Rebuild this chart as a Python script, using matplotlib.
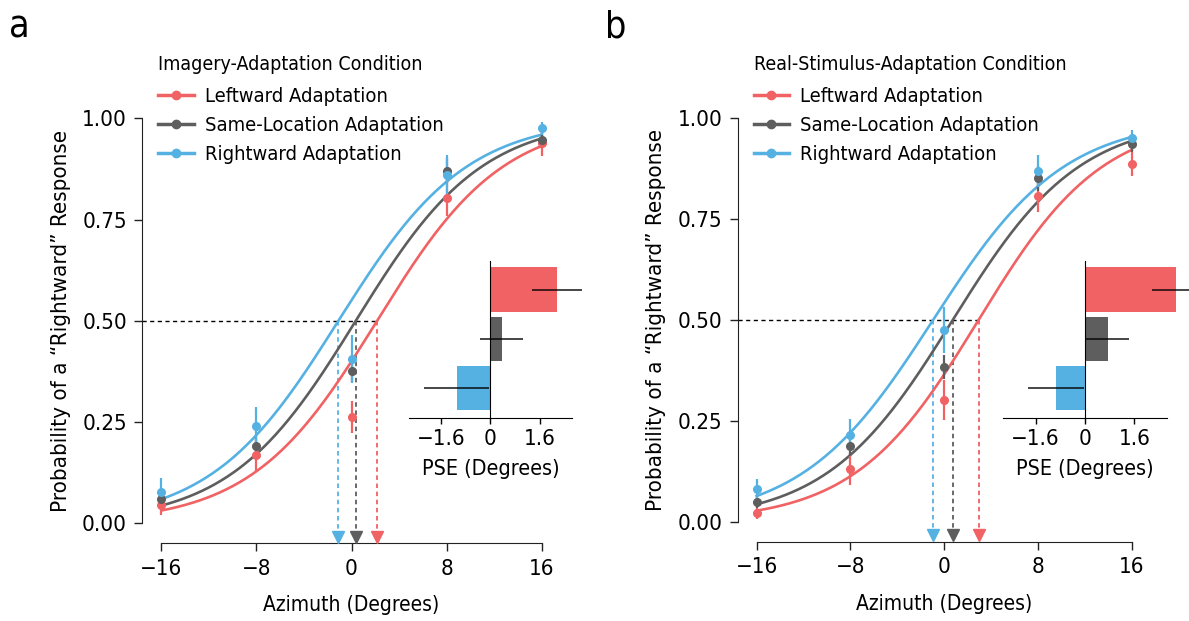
import numpy as np
import matplotlib
matplotlib.use("Agg")
import matplotlib.pyplot as plt
from matplotlib.lines import Line2D

plt.rcParams["font.family"] = ["DejaVu Sans"]
plt.rcParams["font.stretch"] = "condensed"

# stimulus azimuths (degrees)
azimuth = [-16, -8, 0, 8, 16]
series_names = ["Leftward Adaptation", "Same-Location Adaptation", "Rightward Adaptation"]
colors = ["#F06264", "#5E5E5E", "#56B1E3"]

# panel a: imagery adaptation, proportion "rightward" responses
a_left = [0.045, 0.169, 0.263, 0.804, 0.938]
a_left_err = [0.025, 0.04, 0.04, 0.045, 0.03]
a_same = [0.059, 0.191, 0.376, 0.871, 0.946]
a_same_err = [0.02, 0.025, 0.027, 0.03, 0.02]
a_right = [0.078, 0.241, 0.406, 0.86, 0.975]
a_right_err = [0.035, 0.045, 0.06, 0.05, 0.015]
a_pse = [2.15, 0.36, -1.1]
a_pse_err = [0.8, 0.7, 1.04]
a_slope = [5.3, 5.3, 5.4]

# panel b: real-stimulus adaptation
b_left = [0.022, 0.131, 0.302, 0.807, 0.887]
b_left_err = [0.015, 0.04, 0.05, 0.04, 0.03]
b_same = [0.050, 0.188, 0.383, 0.851, 0.936]
b_same_err = [0.015, 0.025, 0.03, 0.03, 0.02]
b_right = [0.081, 0.215, 0.475, 0.870, 0.950]
b_right_err = [0.025, 0.04, 0.058, 0.04, 0.02]
b_pse = [2.93, 0.73, -0.95]
b_pse_err = [0.77, 0.7, 0.91]
b_slope = [5.3, 5.4, 5.6]

W, H = 1189, 621
fig = plt.figure(figsize=(W / 100, H / 100), dpi=100)


def px_axes(x0, x1, y0, y1):
    # axes from pixel box (top-left origin)
    return fig.add_axes([x0 / W, 1 - y1 / H, (x1 - x0) / W, (y1 - y0) / H])


def panel(box, inset_box, letter, title, means, errs, pse, pse_err, slope):
    ax = px_axes(*box)
    ax.set_xlim(-16, 16)
    ax.set_ylim(0, 1)
    for s in ["top", "right"]:
        ax.spines[s].set_visible(False)
    ax.spines["left"].set_position(("outward", 13.7))
    ax.spines["bottom"].set_position(("outward", 14.4))
    ax.spines["left"].set_color("#222222")
    ax.spines["bottom"].set_color("#222222")
    ax.set_xticks([-16, -8, 0, 8, 16])
    ax.set_xticklabels(["\u221216", "\u22128", "0", "8", "16"])
    ax.set_yticks([0, 0.25, 0.5, 0.75, 1.0])
    ax.set_yticklabels(["0.00", "0.25", "0.50", "0.75", "1.00"])
    ax.tick_params(labelsize=16, length=6, width=1, pad=5, color="#222222")
    ax.set_xlabel("Azimuth (Degrees)", fontsize=15, labelpad=12)
    ax.set_ylabel("Probability of a \u201cRightward\u201d Response", fontsize=16, labelpad=8)

    xs = np.linspace(-16, 16, 300)
    ppu = (box[1] - box[0]) / 32.0
    for i in range(3):
        curve = 1 / (1 + np.exp(-(xs - pse[i]) / slope[i]))
        ax.plot(xs, curve, color=colors[i], lw=1.9, clip_on=False, zorder=3)
        ax.errorbar(azimuth, means[i], yerr=errs[i], fmt="o", color=colors[i],
                    ms=5.5, elinewidth=1.6, capsize=0, clip_on=False, zorder=4)
        # PSE arrows
        ax.plot([pse[i], pse[i]], [0.5, -0.03], color=colors[i], lw=1.3,
                dashes=(2.5, 2), clip_on=False, zorder=2)
        ax.plot(pse[i], -0.034, marker="v", ms=8, color=colors[i],
                clip_on=False, zorder=3)
    ax.plot([-16 - 19 / ppu, max(pse)], [0.5, 0.5], color="black", lw=1,
            dashes=(3, 2.5), clip_on=False, zorder=1)

    # legend with its heading set as separate text
    fig.text((box[0] - 3) / W, 1 - 65 / H, title, fontsize=14, va="center", ha="left")
    handles = [Line2D([], [], color=c, lw=2.5, marker="o", ms=6) for c in colors]
    ax.legend(handles, series_names, loc="upper left",
              bbox_to_anchor=((box[0] - 3) / W, 1 - 87 / H),
              bbox_transform=fig.transFigure, frameon=False, fontsize=14.5,
              handlelength=1.75, handletextpad=0.55, labelspacing=0.5,
              borderaxespad=0, borderpad=0)

    fig.text((box[0] - 152) / W, 1 - 10 / H, letter, fontsize=27, va="top", ha="left")

    # inset PSE bars
    ins = px_axes(*inset_box)
    ins.patch.set_visible(False)
    ins.set_xlim(-2.65, 2.65)
    ins.set_ylim(0.4, 3.58)
    ypos = [3, 2, 1]
    ins.barh(ypos, pse, height=0.9, color=colors, clip_on=False, zorder=2)
    ins.errorbar(pse, ypos, xerr=pse_err, fmt="none", ecolor="black",
                 elinewidth=1.2, alpha=0.85, capsize=0, clip_on=False, zorder=3)
    for s in ["top", "right"]:
        ins.spines[s].set_visible(False)
    ins.spines["left"].set_position(("data", 0))
    ins.spines["left"].set_zorder(4)
    ins.set_yticks([])
    ins.set_xticks([-1.6, 0, 1.6])
    ins.set_xticklabels(["\u22121.6", "0", "1.6"])
    ins.tick_params(labelsize=16, length=4, width=1, pad=4)
    ins.set_xlabel("PSE (Degrees)", fontsize=15.5, labelpad=7)
    return ax


panel((161.3, 541.7, 118.3, 523.3), (408.6, 572.4, 261, 417.7), "a",
      "Imagery-Adaptation Condition",
      [a_left, a_same, a_right], [a_left_err, a_same_err, a_right_err],
      a_pse, a_pse_err, a_slope)
panel((756.7, 1131.7, 118.3, 521.7), (1003.1, 1166.9, 261, 417.7), "b",
      "Real-Stimulus-Adaptation Condition",
      [b_left, b_same, b_right], [b_left_err, b_same_err, b_right_err],
      b_pse, b_pse_err, b_slope)

fig.savefig("out.png", dpi=100)
